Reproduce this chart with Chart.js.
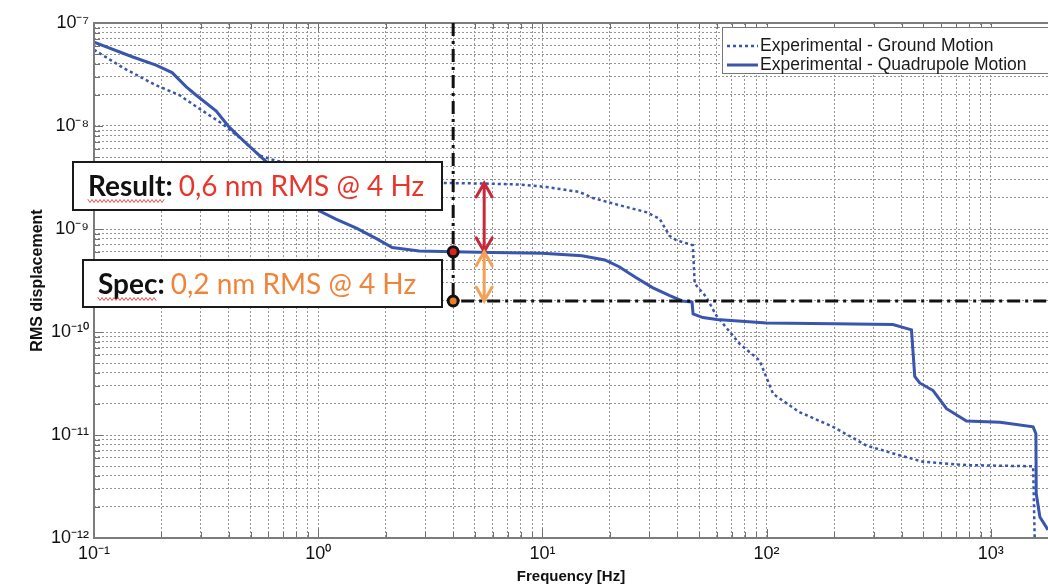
<!DOCTYPE html>
<html>
<head>
<meta charset="utf-8">
<script src="https://cdn.jsdelivr.net/npm/chart.js@4.4.1/dist/chart.umd.min.js"></script>
<style>
  html, body { margin: 0; padding: 0; background: #fff; }
  #wrap { width: 1048px; height: 587px; }
</style>
</head>
<body>
<div id="wrap"><canvas id="chart" width="1048" height="587"></canvas></div>
<script>
// Experimental - Quadrupole Motion (solid), frequency in Hz / RMS displacement in m
var quadFreq = [0.1, 0.148, 0.189, 0.223, 0.258, 0.285, 0.351, 0.40, 0.477, 0.562, 0.7, 0.85, 1.01, 1.2, 1.48, 1.81, 2.14, 2.82, 4, 6, 10, 15, 19, 22, 26, 31, 37, 42, 46.5, 47, 52, 60, 100, 200, 366, 443, 458, 482, 553, 635, 779, 1100, 1545, 1590, 1595, 1656, 1800];
var quadRms = [6.5e-8, 4.7e-8, 3.9e-8, 3.3e-8, 2.4e-8, 2.0e-8, 1.4e-8, 9.8e-9, 6.8e-9, 4.9e-9, 3.2e-9, 2.2e-9, 1.5e-9, 1.25e-9, 1.02e-9, 8.1e-10, 6.6e-10, 6.1e-10, 6.0e-10, 5.9e-10, 5.8e-10, 5.5e-10, 5.0e-10, 4.3e-10, 3.4e-10, 2.7e-10, 2.25e-10, 2.0e-10, 1.95e-10, 1.5e-10, 1.38e-10, 1.32e-10, 1.22e-10, 1.2e-10, 1.18e-10, 1.05e-10, 3.7e-11, 3.2e-11, 2.7e-11, 1.8e-11, 1.37e-11, 1.33e-11, 1.2e-11, 1.03e-11, 2.7e-12, 1.6e-12, 1.2e-12];

// Experimental - Ground Motion (dotted)
var groundFreq = [0.1, 0.134, 0.188, 0.24, 0.294, 0.374, 0.46, 0.545, 0.647, 1.0, 1.5, 2.2, 3.0, 3.58, 5.6, 7.9, 10.4, 14.6, 16.8, 22.1, 29, 33.3, 36.9, 39.5, 46.9, 47.8, 53.8, 59.6, 75.7, 93, 107, 140, 198, 279, 392, 499, 779, 1545, 1570];
var groundRms = [5.5e-8, 3.7e-8, 2.5e-8, 2.0e-8, 1.48e-8, 1.05e-8, 7.3e-9, 5.2e-9, 4.6e-9, 4.0e-9, 3.5e-9, 3.1e-9, 2.9e-9, 2.8e-9, 2.76e-9, 2.7e-9, 2.56e-9, 2.29e-9, 2.0e-9, 1.7e-9, 1.46e-9, 1.26e-9, 8.6e-10, 7.8e-10, 6.95e-10, 2.95e-10, 2.19e-10, 1.45e-10, 7.7e-11, 5.3e-11, 2.5e-11, 1.67e-11, 1.2e-11, 7.9e-12, 6.35e-12, 5.5e-12, 5.1e-12, 4.97e-12, 1.0e-12];

var seriesLabels = ["Experimental - Ground Motion", "Experimental - Quadrupole Motion"];

// axis decades (tick labels 10^n)
var xDecades = [-1, 0, 1, 2, 3];
var yDecades = [-12, -11, -10, -9, -8, -7];
var xMin = 0.1, xMax = 1800;
var yMin = 1e-12, yMax = 1e-7;

// spec / result markers
var specFreq = 4;
var specRms = 2e-10;
var resultRms = 6e-10;
var groundAtSpec = 2.8e-9;
var arrowFreq = 5.5;
var resultText = ["Result:", "0,6 nm RMS @ 4 Hz"];
var specText = ["Spec:", "0,2 nm RMS @ 4 Hz"];

var blue = "#3a55ad";
var sup = { "-": "\u207B", "0": "\u2070", "1": "\u00B9", "2": "\u00B2", "3": "\u00B3", "4": "\u2074",
  "5": "\u2075", "6": "\u2076", "7": "\u2077", "8": "\u2078", "9": "\u2079" };

function isPow10(v) {
  var e = Math.log10(v);
  return Math.abs(e - Math.round(e)) < 1e-6;
}

function powLabel(v) {
  if (!isPow10(v)) return "";
  return "10" + String(Math.round(Math.log10(v))).split("").map(function (c) { return sup[c]; }).join("");
}

function logTicks(decades, max) {
  var out = [];
  decades.forEach(function (d) {
    for (var m = 1; m <= 9; m++) {
      var v = m * Math.pow(10, d);
      if (v <= max * 1.0001) out.push({ value: v });
    }
  });
  return out;
}

function points(xs, ys) {
  return xs.map(function (x, i) { return { x: x, y: ys[i] }; });
}

function arrow(ctx, x, y1, y2, color) {
  ctx.strokeStyle = color;
  ctx.lineWidth = 3;
  ctx.setLineDash([]);
  ctx.lineCap = "round";
  ctx.beginPath();
  ctx.moveTo(x, y1); ctx.lineTo(x, y2);
  ctx.moveTo(x - 8, y1 + 14); ctx.lineTo(x, y1); ctx.lineTo(x + 8, y1 + 14);
  ctx.moveTo(x - 8, y2 - 14); ctx.lineTo(x, y2); ctx.lineTo(x + 8, y2 - 14);
  ctx.stroke();
}

function squiggle(ctx, x1, x2, y) {
  ctx.strokeStyle = "#e2534f";
  ctx.lineWidth = 1;
  ctx.beginPath();
  for (var x = x1, k = 0; x <= x2; x += 2, k++) {
    var yy = y + (k % 2 ? 1.5 : -1.5);
    if (k === 0) ctx.moveTo(x, yy); else ctx.lineTo(x, yy);
  }
  ctx.stroke();
}

function noteBox(ctx, box, parts, color, tx, ty) {
  ctx.fillStyle = "#fff";
  ctx.fillRect(box[0], box[1], box[2], box[3]);
  ctx.strokeStyle = "#1a1a1a";
  ctx.lineWidth = 2;
  ctx.setLineDash([]);
  ctx.strokeRect(box[0], box[1], box[2], box[3]);
  ctx.textBaseline = "alphabetic";
  ctx.textAlign = "left";
  ctx.font = "bold 28px Lato, sans-serif";
  ctx.fillStyle = "#111";
  ctx.fillText(parts[0], tx, ty);
  var w = ctx.measureText(parts[0]).width;
  squiggle(ctx, tx, tx + w - 8, ty + 5);
  ctx.font = "28px Lato, sans-serif";
  ctx.fillStyle = color;
  ctx.fillText(parts[1], tx + w + 6, ty);
}

var overlay = {
  id: "overlay",
  afterDraw: function (chart) {
    var ctx = chart.ctx, a = chart.chartArea;
    var xs = chart.scales.x, ys = chart.scales.y;
    ctx.save();

    // inner tick marks
    ctx.strokeStyle = "#707070";
    ctx.lineWidth = 1;
    ys.ticks.forEach(function (t) {
      var y = Math.round(ys.getPixelForValue(t.value)) + 0.5;
      var len = isPow10(t.value) ? 9 : 6;
      ctx.beginPath(); ctx.moveTo(a.left, y); ctx.lineTo(a.left + len, y); ctx.stroke();
    });
    xs.ticks.forEach(function (t) {
      var x = Math.round(xs.getPixelForValue(t.value)) + 0.5;
      var len = isPow10(t.value) ? 9 : 6;
      ctx.beginPath();
      ctx.moveTo(x, a.top); ctx.lineTo(x, a.top + len);
      ctx.moveTo(x, a.bottom); ctx.lineTo(x, a.bottom - len);
      ctx.stroke();
    });

    // frame
    ctx.strokeStyle = "#7c7c7c";
    ctx.lineWidth = 2;
    ctx.beginPath();
    ctx.moveTo(a.right + 2, a.top); ctx.lineTo(a.left, a.top);
    ctx.lineTo(a.left, a.bottom); ctx.lineTo(a.right + 2, a.bottom);
    ctx.stroke();

    // spec dash-dot lines
    var sx = xs.getPixelForValue(specFreq);
    var sy = ys.getPixelForValue(specRms);
    var ry = ys.getPixelForValue(resultRms);
    var gy = ys.getPixelForValue(groundAtSpec);
    var ax = xs.getPixelForValue(arrowFreq);
    ctx.strokeStyle = "#111";
    ctx.lineWidth = 3;
    ctx.setLineDash([13, 5, 3, 5]);
    ctx.beginPath();
    ctx.moveTo(sx, a.top); ctx.lineTo(sx, sy); ctx.lineTo(a.right, sy);
    ctx.stroke();

    // arrows
    arrow(ctx, ax, gy, ry, "#c8283a");
    arrow(ctx, ax, ry, sy, "#f4a055");

    // circles
    [[ry, "#e01f1f"], [sy, "#ee7d22"]].forEach(function (c) {
      ctx.beginPath();
      ctx.arc(sx, c[0], 5, 0, Math.PI * 2);
      ctx.fillStyle = c[1];
      ctx.fill();
      ctx.lineWidth = 3;
      ctx.strokeStyle = "#111";
      ctx.stroke();
    });

    // note boxes
    noteBox(ctx, [73, 162, 369, 48], resultText, "#e8362c", 88, 196);
    noteBox(ctx, [83, 260, 359, 47], specText, "#f0843a", 98, 294);

    // legend
    var lx = 722, ly = 27;
    ctx.fillStyle = "#fff";
    ctx.fillRect(lx, ly, 340, 46);
    ctx.strokeStyle = "#777";
    ctx.lineWidth = 1;
    ctx.setLineDash([]);
    ctx.strokeRect(lx + 0.5, ly + 0.5, 340, 46);
    ctx.font = "17.5px 'Liberation Sans', Arial, sans-serif";
    ctx.textBaseline = "middle";
    chart.data.datasets.forEach(function (ds, i) {
      var y = ly + 19 + i * 19;
      ctx.strokeStyle = ds.borderColor;
      ctx.lineWidth = ds.borderWidth;
      ctx.setLineDash(ds.borderDash || []);
      ctx.lineCap = "butt";
      ctx.beginPath(); ctx.moveTo(lx + 5, y); ctx.lineTo(lx + 36, y); ctx.stroke();
      ctx.fillStyle = "#1a1a1a";
      ctx.fillText(ds.label, lx + 38, y);
    });
    ctx.restore();
  }
};

Chart.defaults.font.family = "'Liberation Sans', Arial, sans-serif";
Chart.defaults.color = "#111";

new Chart(document.getElementById("chart"), {
  type: "scatter",
  data: {
    datasets: [
      {
        label: seriesLabels[0],
        data: points(groundFreq, groundRms),
        showLine: true,
        borderColor: blue,
        borderWidth: 2.5,
        borderDash: [3, 3],
        pointRadius: 0,
        tension: 0
      },
      {
        label: seriesLabels[1],
        data: points(quadFreq, quadRms),
        showLine: true,
        borderColor: blue,
        borderWidth: 3,
        pointRadius: 0,
        tension: 0
      }
    ]
  },
  options: {
    responsive: false,
    animation: false,
    layout: { padding: { top: 23, left: 0, right: 0, bottom: 0 } },
    plugins: { legend: { display: false }, tooltip: { enabled: false } },
    scales: {
      x: {
        type: "logarithmic",
        min: xMin,
        max: xMax,
        afterBuildTicks: function (s) { s.ticks = logTicks(xDecades, xMax); },
        afterFit: function (s) { s.height = 49; },
        grid: { color: "#959595", lineWidth: 1, drawTicks: false },
        border: { display: false, dash: [2, 2] },
        ticks: {
          autoSkip: false, maxRotation: 0, padding: 5,
          font: { size: 18 }, color: "#111",
          callback: function (v) { return powLabel(v); }
        },
        title: {
          display: true, text: "Frequency [Hz]",
          font: { size: 15, weight: "bold" }, color: "#111",
          padding: { top: 0, bottom: 1 }
        }
      },
      y: {
        type: "logarithmic",
        min: yMin,
        max: yMax,
        afterBuildTicks: function (s) { s.ticks = logTicks(yDecades, yMax); },
        afterFit: function (s) { s.width = 94; },
        grid: { color: "#959595", lineWidth: 1, drawTicks: false },
        border: { display: false, dash: [2, 2] },
        ticks: {
          autoSkip: false, padding: 5,
          font: { size: 18 }, color: "#111",
          callback: function (v) { return powLabel(v); }
        },
        title: {
          display: true, text: "RMS displacement",
          font: { size: 16, weight: "bold" }, color: "#111",
          padding: { top: 28, bottom: 0 }
        }
      }
    }
  },
  plugins: [overlay]
});
</script>
</body>
</html>
